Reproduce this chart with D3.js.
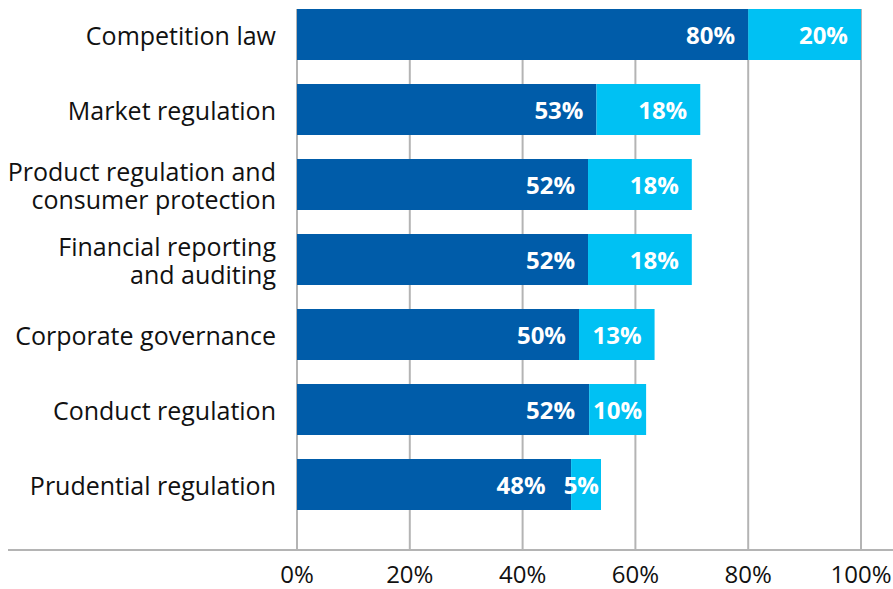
<!DOCTYPE html>
<html><head><meta charset="utf-8">
<script src="https://cdn.jsdelivr.net/npm/d3@7"></script>
<style>body{margin:0;background:#fff;}svg{display:block;}</style>
</head><body>
<svg id="c" width="893" height="589"></svg>
<script>
const categories = [
  ["Competition law"],
  ["Market regulation"],
  ["Product regulation and", "consumer protection"],
  ["Financial reporting", "and auditing"],
  ["Corporate governance"],
  ["Conduct regulation"],
  ["Prudential regulation"]
];
const darkValues = [80, 53.1, 51.6, 51.6, 50, 51.8, 48.6];
const lightValues = [20, 18.4, 18.4, 18.4, 13.4, 10.1, 5.3];
const darkLabels = ["80%", "53%", "52%", "52%", "50%", "52%", "48%"];
const lightLabels = ["20%", "18%", "18%", "18%", "13%", "10%", "5%"];
const tickValues = [0, 20, 40, 60, 80, 100];
const tickLabels = ["0%", "20%", "40%", "60%", "80%", "100%"];

const FONT = "'Open Sans', 'Noto Sans', sans-serif";
const svg = d3.select("#c");
const keys = categories.map(c => c.join(" "));
const x = d3.scaleLinear().domain([0, 100]).range([297, 861]);
const y = d3.scaleBand().domain(keys).range([-3, 522]).paddingInner(0.32).paddingOuter(0.16);
const axisY = 550;

// gridlines
svg.append("g").selectAll("line").data(tickValues).join("line")
  .attr("x1", d => x(d)).attr("x2", d => x(d))
  .attr("y1", 9).attr("y2", axisY)
  .attr("stroke", "#b4b4b4").attr("stroke-width", 2);

// axis line
svg.append("line").attr("x1", 8).attr("x2", 893).attr("y1", axisY).attr("y2", axisY)
  .attr("stroke", "#b4b4b4").attr("stroke-width", 2);

// tick labels
svg.append("g").selectAll("text").data(tickValues).join("text")
  .attr("x", d => x(d)).attr("y", 583).attr("text-anchor", "middle")
  .attr("font-family", FONT).attr("font-size", 24).attr("fill", "#111")
  .text((d, i) => tickLabels[i]);

const rows = keys.map((k, i) => ({k, i, dark: darkValues[i], light: lightValues[i]}));

// bars
const g = svg.append("g");
g.selectAll("rect.dark").data(rows).join("rect").attr("class", "dark")
  .attr("x", x(0)).attr("y", d => y(d.k))
  .attr("width", d => x(d.dark) - x(0)).attr("height", y.bandwidth())
  .attr("fill", "#005ca9");
g.selectAll("rect.light").data(rows).join("rect").attr("class", "light")
  .attr("x", d => x(d.dark)).attr("y", d => y(d.k))
  .attr("width", d => x(d.dark + d.light) - x(d.dark)).attr("height", y.bandwidth())
  .attr("fill", "#00c1f3");

// value labels
rows.forEach(d => {
  const cy = y(d.k) + y.bandwidth() / 2 + 9;
  const lt = g.append("text").attr("y", cy).attr("text-anchor", "end")
    .attr("font-family", FONT).attr("font-size", 24).attr("font-weight", "bold")
    .attr("fill", "#fff").text(lightLabels[d.i]);
  const lw = lt.node().getComputedTextLength();
  const segW = x(d.dark + d.light) - x(d.dark);
  const pad = Math.min(13, Math.max(2, (segW - lw) / 2));
  const lEnd = x(d.dark + d.light) - pad;
  lt.attr("x", lEnd);
  const dEnd = Math.min(x(d.dark) - 13, lEnd - lw - 18);
  g.append("text").attr("x", dEnd).attr("y", cy).attr("text-anchor", "end")
    .attr("font-family", FONT).attr("font-size", 24).attr("font-weight", "bold")
    .attr("fill", "#fff").text(darkLabels[d.i]);
});

// category labels
rows.forEach(d => {
  const lines = categories[d.i];
  const lh = 28;
  const cy = y(d.k) + y.bandwidth() / 2;
  const t = svg.append("text").attr("text-anchor", "end")
    .attr("font-family", FONT).attr("font-size", 25).attr("fill", "#111");
  lines.forEach((ln, j) => {
    t.append("tspan").attr("x", 276)
      .attr("y", cy + 10 + (j - (lines.length - 1) / 2) * lh).text(ln);
  });
});
</script>
</body></html>
